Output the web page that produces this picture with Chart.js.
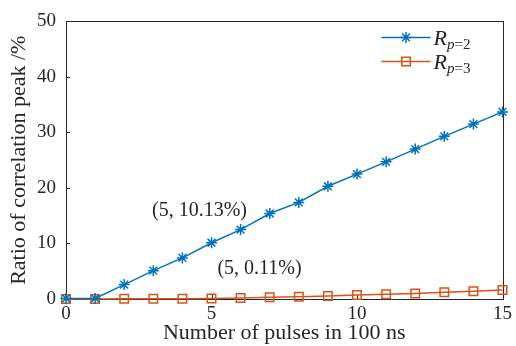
<!DOCTYPE html>
<html>
<head>
<meta charset="utf-8">
<script src="https://cdn.jsdelivr.net/npm/chart.js@4/dist/chart.umd.min.js"></script>
<style>
  html, body { margin: 0; padding: 0; background: #fff; }
  #wrap { width: 516px; height: 346px; position: relative; }
</style>
</head>
<body>
<div id="wrap"><canvas id="c"></canvas></div>
<script>
// Pulse counts (x, in units of 100 ns)
const pulses = [0, 1, 2, 3, 4, 5, 6, 7, 8, 9, 10, 11, 12, 13, 14, 15];
// Ratio of correlation peak (%) for each group size
const ratioP2 = [0.1, 0.1, 2.6, 5.1, 7.4, 10.13, 12.5, 15.4, 17.4, 20.3, 22.5, 24.7, 27.0, 29.3, 31.5, 33.7];
const ratioP3 = [0.02, 0.02, 0.03, 0.04, 0.06, 0.11, 0.2, 0.3, 0.4, 0.55, 0.7, 0.85, 1.0, 1.2, 1.4, 1.6];
// Legend entries: symbol, italic subscript variable, upright subscript rest
const seriesNames = [["R", "p", "=2"], ["R", "p", "=3"]];
// Callouts for the x = 5 values
const callouts = [
  { x: 5, y: ratioP2[5], text: "(5, 10.13%)" },
  { x: 5, y: ratioP3[5], text: "(5, 0.11%)" }
];
const xTicks = [0, 5, 10, 15];
const yTicks = [0, 10, 20, 30, 40, 50];

const BLUE = "#0072BD";
const ORANGE = "#D95319";
const SERIF = "'Liberation Serif', 'Times New Roman', serif";

const toXY = (vals) => vals.map((v, i) => ({ x: pulses[i], y: v }));

// Draws the axes box, inward tick marks, callouts and legend
const framePlugin = {
  id: "frame",
  beforeDatasetsDraw(chart) {
    const { ctx, chartArea: a, scales } = chart;
    ctx.save();
    ctx.strokeStyle = "#262626";
    ctx.lineWidth = 1;
    ctx.strokeRect(Math.round(a.left) + 0.5, Math.round(a.top) + 0.5,
                   Math.round(a.right - a.left), Math.round(a.bottom - a.top));
    ctx.beginPath();
    xTicks.forEach(t => {
      const px = Math.round(scales.x.getPixelForValue(t)) + 0.5;
      ctx.moveTo(px, a.bottom);
      ctx.lineTo(px, a.bottom - 4);
    });
    yTicks.forEach(t => {
      const py = Math.round(scales.y.getPixelForValue(t)) + 0.5;
      ctx.moveTo(a.left, py);
      ctx.lineTo(a.left + 4, py);
    });
    ctx.stroke();
    ctx.restore();
  },
  afterDatasetsDraw(chart) {
    const { ctx, chartArea: a, scales } = chart;
    ctx.save();
    // callout texts
    ctx.fillStyle = "#262626";
    ctx.font = "20px " + SERIF;
    ctx.textBaseline = "middle";
    ctx.textAlign = "center";
    const px1 = scales.x.getPixelForValue(callouts[0].x);
    ctx.fillText(callouts[0].text, px1 - 12, scales.y.getPixelForValue(callouts[0].y) - 32);
    const px2 = scales.x.getPixelForValue(callouts[1].x);
    ctx.fillText(callouts[1].text, px2 + 48, scales.y.getPixelForValue(callouts[1].y) - 30);

    // legend
    const colors = [BLUE, ORANGE];
    const styles = ["star", "rect"];
    const radii = [5.5, 6];
    chart.data.datasets.forEach((ds, i) => {
      const y = a.top + 16 + i * 24;
      const x0 = a.right - 121, x1 = a.right - 72;
      ctx.strokeStyle = colors[i];
      ctx.fillStyle = "rgba(0,0,0,0)";
      ctx.lineWidth = 1.5;
      ctx.beginPath();
      ctx.moveTo(x0, y);
      ctx.lineTo(x1, y);
      ctx.stroke();
      Chart.helpers.drawPoint(ctx, {
        pointStyle: styles[i], radius: radii[i], rotation: 0, borderWidth: 1.5
      }, (x0 + x1) / 2, y);
      ctx.fillStyle = "#262626";
      ctx.textAlign = "left";
      ctx.textBaseline = "alphabetic";
      let tx = x1 + 3;
      ctx.font = "italic 22px " + SERIF;
      ctx.fillText(seriesNames[i][0], tx, y + 8);
      tx += ctx.measureText(seriesNames[i][0]).width;
      ctx.font = "italic 15px " + SERIF;
      ctx.fillText(seriesNames[i][1], tx, y + 12);
      tx += ctx.measureText(seriesNames[i][1]).width;
      ctx.font = "15px " + SERIF;
      ctx.fillText(seriesNames[i][2], tx, y + 12);
    });
    ctx.restore();
  }
};

new Chart(document.getElementById("c"), {
  type: "line",
  data: {
    datasets: [
      {
        label: "R p=2",
        data: toXY(ratioP2),
        borderColor: BLUE,
        backgroundColor: BLUE,
        borderWidth: 1.5,
        pointStyle: "star",
        pointRadius: 5.5,
        pointBorderWidth: 1.5,
        pointBorderColor: BLUE,
        tension: 0
      },
      {
        label: "R p=3",
        data: toXY(ratioP3),
        borderColor: ORANGE,
        backgroundColor: "rgba(0,0,0,0)",
        borderWidth: 1.5,
        pointStyle: "rect",
        pointRadius: 6,
        pointBorderWidth: 1.5,
        pointBorderColor: ORANGE,
        tension: 0
      }
    ]
  },
  options: {
    responsive: true,
    maintainAspectRatio: false,
    animation: false,
    clip: false,
    layout: { padding: { top: 20, right: 13, left: 0, bottom: 0 } },
    plugins: { legend: { display: false }, tooltip: { enabled: false } },
    scales: {
      x: {
        type: "linear",
        min: 0, max: 15,
        afterBuildTicks: (s) => { s.ticks = xTicks.map(v => ({ value: v })); },
        afterFit: (s) => { s.height = 47; },
        grid: { display: false, drawTicks: false },
        border: { display: false },
        ticks: { color: "#262626", padding: 4, font: { family: SERIF, size: 19, lineHeight: 1.2 } },
        title: {
          display: true, text: "Number of pulses in 100 ns", color: "#262626",
          padding: { top: 0, bottom: 0 },
          font: { family: SERIF, size: 22, lineHeight: 1.2 }
        }
      },
      y: {
        min: 0, max: 50,
        afterBuildTicks: (s) => { s.ticks = yTicks.map(v => ({ value: v })); },
        afterFit: (s) => { s.width = 66; },
        grid: { display: false, drawTicks: false },
        border: { display: false },
        ticks: { color: "#262626", padding: 10, font: { family: SERIF, size: 19, lineHeight: 1.2 } },
        title: {
          display: true, text: "Ratio of correlation peak /%", color: "#262626",
          padding: { top: 6, bottom: 0 },
          font: { family: SERIF, size: 22, lineHeight: 1.2 }
        }
      }
    }
  },
  plugins: [framePlugin]
});
</script>
</body>
</html>
